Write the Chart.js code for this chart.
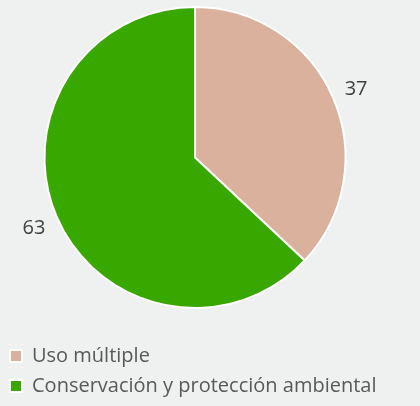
<!DOCTYPE html>
<html>
<head>
<meta charset="utf-8">
<script src="https://cdn.jsdelivr.net/npm/chart.js@4.4.0/dist/chart.umd.min.js"></script>
<style>
  html, body { margin: 0; padding: 0; background: #eff0f0; }
  #wrap { width: 420px; height: 406px; }
</style>
</head>
<body>
<div id="wrap"><canvas id="pieChart"></canvas></div>
<script>
// Categorías y valores del gráfico
const categories = ["Uso múltiple", "Conservación y protección ambiental"];
const values = [37, 63];
const colors = ["#d9b19c", "#38a800"];

// Etiquetas de valor fuera de cada sector
const outsideLabels = {
    id: "outsideLabels",
    afterDatasetsDraw(chart) {
        const ctx = chart.ctx;
        const meta = chart.getDatasetMeta(0);
        ctx.save();
        ctx.font = "20px 'Open Sans'";
        ctx.fillStyle = "#404040";
        ctx.textAlign = "center";
        ctx.textBaseline = "middle";
        meta.data.forEach((arc, i) => {
            const mid = (arc.startAngle + arc.endAngle) / 2;
            const r = arc.outerRadius + 25;
            ctx.fillText(values[i], arc.x + Math.cos(mid) * r, arc.y + Math.sin(mid) * r + 1);
        });
        ctx.restore();
    }
};

const config = {
    type: "pie",
    data: {
        labels: categories,
        datasets: [{
            data: values,
            backgroundColor: colors,
            borderColor: "#ffffff",
            borderWidth: 2
        }]
    },
    options: {
        responsive: true,
        maintainAspectRatio: false,
        animation: false,
        layout: {
            padding: { top: 6, bottom: 0, left: 0, right: 30 }
        },
        plugins: {
            legend: {
                position: "bottom",
                align: "start",
                // título vacío: deja espacio entre la torta y la leyenda
                title: {
                    display: true,
                    text: "",
                    font: { size: 10 },
                    padding: { top: 15, bottom: 0 }
                },
                labels: {
                    boxWidth: 12,
                    boxHeight: 12,
                    padding: 10,
                    color: "#595959",
                    font: { family: "'Open Sans'", size: 20 }
                }
            },
            tooltip: { enabled: false }
        }
    },
    plugins: [outsideLabels]
};

const pieChart = new Chart(document.getElementById("pieChart"), config);
</script>
</body>
</html>
